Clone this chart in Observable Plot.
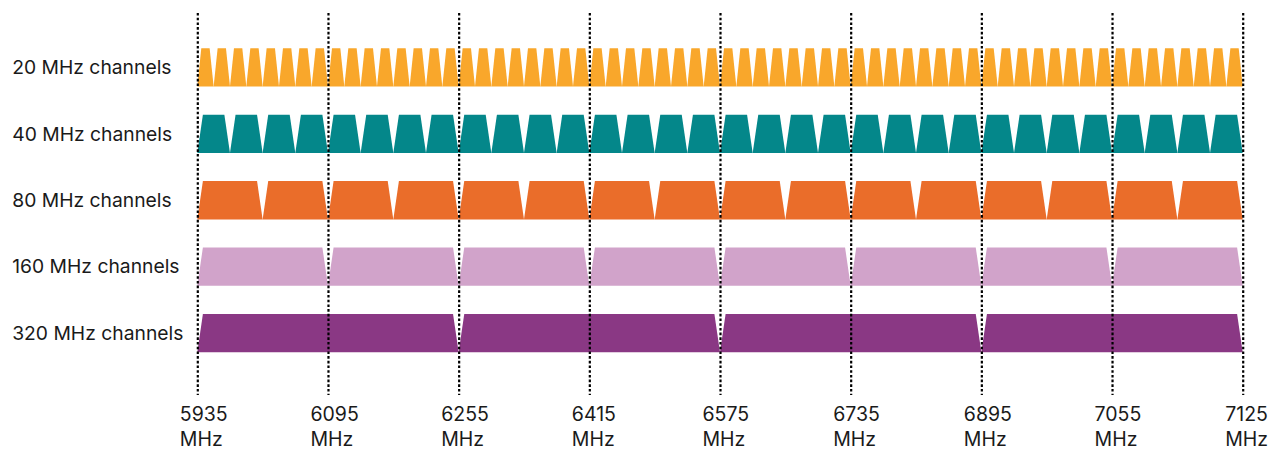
<!DOCTYPE html>
<html>
<head>
<meta charset="utf-8">
<script src="https://cdn.jsdelivr.net/npm/d3@7"></script>
<script src="https://cdn.jsdelivr.net/npm/@observablehq/plot@0.6"></script>
<style>
  html, body { margin: 0; padding: 0; background: #fff; }
  #chart svg { display: block; }
</style>
</head>
<body>
<div id="chart"></div>
<script>
// ---- data ----
const tickLabels = ["5935", "6095", "6255", "6415", "6575", "6735", "6895", "7055", "7125"];
const rowLabels = ["20 MHz channels", "40 MHz channels", "80 MHz channels", "160 MHz channels", "320 MHz channels"];
const channelWidths = [20, 40, 80, 160, 320];
const rowColors = ["#F9A72B", "#04878A", "#EA6D2A", "#D1A3CA", "#8A3884"];
const segmentMHz = 160;      // spacing between dotted lines (schematic)
const segments = 8;

// ---- layout / style ----
const W = 1273, H = 451;
const mL = 197.3, mR = 30.3, mT = 13, mB = 56;
const span = segmentMHz * segments;
const pxPerMHz = (W - mL - mR) / span;
const rowPitch = 66.4, rowH = 38.3, firstTop = 48.3;
const yMin = (mT - firstTop) / rowPitch;
const yMax = (H - mB - firstTop) / rowPitch;
const hFrac = rowH / rowPitch;

const pts = [];
channelWidths.forEach((w, r) => {
  const n = span / w;
  const insetPx = w === 20 ? 4 : 5.6;
  const inset = insetPx / pxPerMHz;
  const yb = r + hFrac, yt = r;
  for (let k = 0; k < n; k++) {
    const x0 = k * w, x1 = (k + 1) * w, id = r + "-" + k, color = rowColors[r];
    pts.push({id, color, x: x0, y1: yb, y2: yb});
    pts.push({id, color, x: x0 + inset, y1: yb, y2: yt});
    pts.push({id, color, x: x1 - inset, y1: yb, y2: yt});
    pts.push({id, color, x: x1, y1: yb, y2: yb});
  }
});

const ticks = tickLabels.map((t, i) => ({x: i * segmentMHz, label: t + "\nMHz"}));

const chart = Plot.plot({
  width: W, height: H,
  marginLeft: mL, marginRight: mR, marginTop: mT, marginBottom: mB,
  style: {fontFamily: "Inter, 'Noto Sans', sans-serif", color: "#1a1a1a", background: "#fff"},
  x: {domain: [0, span], axis: null},
  y: {domain: [yMin, yMax], reverse: true, axis: null},
  color: {type: "identity"},
  marks: [
    Plot.areaY(pts, {x: "x", y1: "y1", y2: "y2", z: "id", fill: "color", curve: "linear"}),
    Plot.ruleX(ticks, {x: "x", stroke: "#000", strokeWidth: 2.2, strokeDasharray: "2.6,2.1"}),
    Plot.text(rowLabels, {x: 0, y: (d, i) => i + hFrac / 2, text: d => d, textAnchor: "start", dx: -185.6, fontSize: 19.3, fill: "#1a1a1a"}),
    Plot.text(ticks, {x: "x", text: "label", frameAnchor: "bottom", lineAnchor: "top", textAnchor: "start", dx: -18, dy: 8.5, fontSize: 19.5, lineHeight: 1.25, fill: "#1a1a1a"})
  ]
});
document.getElementById("chart").appendChild(chart);
</script>
</body>
</html>
